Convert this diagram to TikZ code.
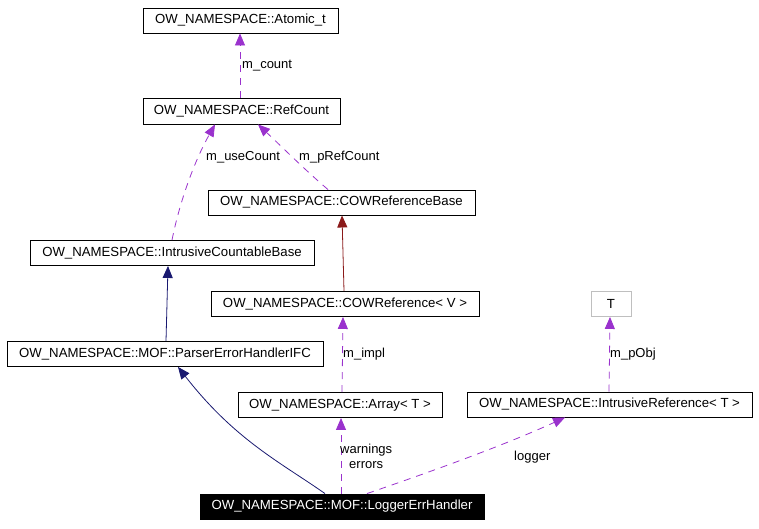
\documentclass[tikz,border=0pt]{standalone}
\usepackage{fontspec}
\setmainfont{Liberation Sans}
\usetikzlibrary{arrows.meta}
\definecolor{purp}{HTML}{9A32CD}
\definecolor{navy}{HTML}{191970}
\definecolor{dred}{HTML}{8B1A1A}
\definecolor{gry}{HTML}{BFBFBF}
\tikzset{
  cls/.style={draw=black, line width=0.9pt, rectangle, inner sep=0pt, font=\fontsize{13.2}{15}\selectfont},
  usage/.style={draw=purp, line width=0.8pt, dash pattern=on 7pt off 6pt, -{Triangle[length=12pt,width=10pt,fill=purp]}},
  inh/.style={draw=navy, line width=0.8pt, -{Triangle[length=12pt,width=10pt,fill=navy]}},
  tmpl/.style={draw=dred, line width=0.8pt, -{Triangle[length=12pt,width=10pt,fill=dred]}},
  lbl/.style={font=\fontsize{13}{15}\selectfont, inner sep=0pt, anchor=west}
}
\begin{document}
\begin{tikzpicture}[x=1pt,y=-1pt]
\useasboundingbox (0,0) rectangle (759,528);
\node[cls, minimum width=195pt, minimum height=25pt] (atom) at (240.5,20.5) {OW\_NAMESPACE::Atomic\_t};
\node[cls, minimum width=197pt, minimum height=26pt] (ref) at (241.5,111) {OW\_NAMESPACE::RefCount};
\node[cls, minimum width=267pt, minimum height=25pt] (cowb) at (341.5,202.5) {OW\_NAMESPACE::COWReferenceBase};
\node[cls, minimum width=284pt, minimum height=25pt] (icb) at (172,253) {OW\_NAMESPACE::IntrusiveCountableBase};
\node[cls, minimum width=268pt, minimum height=25pt] (cow) at (345,304) {OW\_NAMESPACE::COWReference< V >};
\node[cls, minimum width=316pt, minimum height=25pt] (peh) at (165,354) {OW\_NAMESPACE::MOF::ParserErrorHandlerIFC};
\node[cls, draw=gry, minimum width=40pt, minimum height=25pt] (T) at (611,304) {T};
\node[cls, minimum width=204pt, minimum height=25pt] (arr) at (340,405) {OW\_NAMESPACE::Array< T >};
\node[cls, minimum width=285pt, minimum height=25pt] (iref) at (609.5,404.5) {OW\_NAMESPACE::IntrusiveReference< T >};
\node[cls, fill=black, text=white, minimum width=284pt, minimum height=25pt] (log) at (342,506.5) {OW\_NAMESPACE::MOF::LoggerErrHandler};

% RefCount -> Atomic_t
\draw[usage] (ref.north -| 240,0) -- (atom.south -| 240,0);
\node[lbl] (lcount) at (242,66) {m\_count};
% IntrusiveCountableBase -> RefCount
\draw[usage] (icb.north -| 172,0) .. controls (180,200) and (195,160) .. (ref.south -| 215,0);
\node[lbl] (luse) at (206,157) {m\_useCount};
% COWReferenceBase -> RefCount
\draw[usage] (cowb.north -| 328,0) .. controls (305,170) and (280,145) .. (ref.south -| 258,0);
\node[lbl] (lpref) at (299,157) {m\_pRefCount};
% COWReference -> COWReferenceBase
\draw[tmpl] (cow.north -| 344,0) -- (cowb.south -| 342,0);
% ParserErrorHandlerIFC -> IntrusiveCountableBase
\draw[inh] (peh.north -| 166,0) -- (icb.south -| 168,0);
% Array -> COWReference
\draw[usage] (arr.north -| 342,0) -- (cow.south -| 343,0);
\node[lbl] (limpl) at (343,354) {m\_impl};
% IntrusiveReference -> T
\draw[usage] (iref.north -| 609,0) -- (T.south -| 610,0);
\node[lbl] (lpobj) at (610,354) {m\_pObj};
% Logger -> ParserErrorHandlerIFC
\draw[inh] (log.north -| 325,0) .. controls (280,462) and (235,440) .. (peh.south -| 178,0);
% Logger -> Array
\draw[usage] (log.north -| 341,0) -- (arr.south -| 341,0);
\node[lbl] (lwarn) at (340,450) {warnings};
\node[lbl] (lerr) at (349,465) {errors};
% Logger -> IntrusiveReference
\draw[usage] (log.north -| 367,0) .. controls (430,472) and (505,445) .. (iref.south -| 565,0);
\node[lbl] (llog) at (514,457) {logger};
\end{tikzpicture}
\end{document}
